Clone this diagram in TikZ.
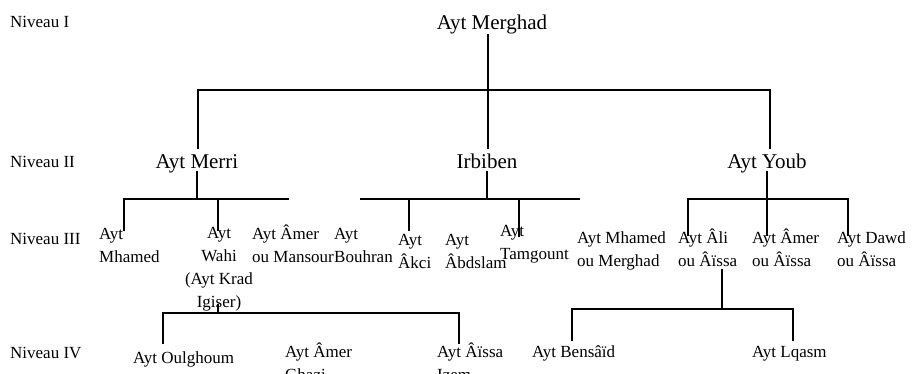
\documentclass[tikz,border=0pt]{standalone}
\usepackage{fontspec}
\setmainfont{Liberation Serif}
\begin{document}
\begin{tikzpicture}[x=1pt,y=-1pt,
  sm/.style={inner sep=0pt,font=\fontsize{17}{23}\selectfont,anchor=base west,align=left},
  smc/.style={inner sep=0pt,font=\fontsize{17}{23}\selectfont,anchor=base,align=center},
  lg/.style={inner sep=0pt,font=\fontsize{21}{24}\selectfont,anchor=base},
  link/.style={line width=1.1pt,line cap=rect}]
\useasboundingbox (0,0) rectangle (912,373);
% level labels
\node[sm] (n1) at (10,27) {Niveau I};
\node[sm] (n2) at (10,167) {Niveau II};
\node[sm] (n3) at (10,244) {Niveau III};
\node[sm] (n4) at (10,358) {Niveau IV};
% level I and II
\node[lg] (merghad) at (492,29) {Ayt Merghad};
\node[lg] (merri) at (197,168) {Ayt Merri};
\node[lg] (irbiben) at (487,168) {Irbiben};
\node[lg] (youb) at (767,168) {Ayt Youb};
% level III (anchor = baseline of last line)
\node[sm] (mhamed) at (99,262) {Ayt\\Mhamed};
\node[smc] (wahi) at (219,307) {Ayt\\Wahi\\(Ayt Krad\\Igiser)};
\node[sm] (amerm) at (252,262) {Ayt Âmer\\ou Mansour};
\node[sm] (bouhran) at (334,262) {Ayt\\Bouhran};
\node[sm] (akci) at (398,268) {Ayt\\Âkci};
\node[sm] (abdslam) at (445,268) {Ayt\\Âbdslam};
\node[sm] (tamgount) at (500,259) {Ayt\\Tamgount};
\node[sm] (mhamedm) at (577,266) {Ayt Mhamed\\ou Merghad};
\node[sm] (ali) at (678,266) {Ayt Âli\\ou Âïssa};
\node[sm] (amera) at (752,266) {Ayt Âmer\\ou Âïssa};
\node[sm] (dawd) at (837,266) {Ayt Dawd\\ou Âïssa};
% level IV
\node[sm] (oulghoum) at (133,363) {Ayt Oulghoum};
\node[sm] (amerg) at (285,380) {Ayt Âmer\\Ghazi};
\node[sm] (aissa) at (437,380) {Ayt Âïssa\\Izem};
\node[sm] (bensaid) at (532,357) {Ayt Bensâïd};
\node[sm] (lqasm) at (752,357) {Ayt Lqasm};
% junction coordinates
\coordinate (t0) at (488,35);
\coordinate (tL) at (198,90);
\coordinate (tM) at (488,90);
\coordinate (tR) at (770,90);
\coordinate (m1) at (198,148);
\coordinate (i1) at (488,148);
\coordinate (y1) at (770,148);
% level I -> II
\draw[link] (t0) -- (tM);
\draw[link] (tL) -- (tR);
\draw[link] (tL) -- (m1);
\draw[link] (tM) -- (i1);
\draw[link] (tR) -- (y1);
% Ayt Merri
\coordinate (ma) at (197,172);
\coordinate (mb) at (197,199);
\coordinate (mL) at (124,199);
\coordinate (mR) at (288,199);
\coordinate (mW) at (218,199);
\coordinate (mLd) at (124,230);
\coordinate (mWd) at (218,230);
\draw[link] (ma) -- (mb);
\draw[link] (mL) -- (mR);
\draw[link] (mL) -- (mLd);
\draw[link] (mW) -- (mWd);
% Irbiben
\coordinate (ia) at (487,172);
\coordinate (ib) at (487,199);
\coordinate (iL) at (361,199);
\coordinate (iR) at (579,199);
\coordinate (iA) at (409,199);
\coordinate (iT) at (519,199);
\coordinate (iAd) at (409,230);
\coordinate (iTd) at (519,236);
\draw[link] (ia) -- (ib);
\draw[link] (iL) -- (iR);
\draw[link] (iA) -- (iAd);
\draw[link] (iT) -- (iTd);
% Ayt Youb
\coordinate (ya) at (767,172);
\coordinate (yL) at (688,199);
\coordinate (yR) at (848,199);
\coordinate (yLd) at (688,235);
\coordinate (yMd) at (767,235);
\coordinate (yRd) at (848,235);
\draw[link] (ya) -- (yMd);
\draw[link] (yL) -- (yR);
\draw[link] (yL) -- (yLd);
\draw[link] (yR) -- (yRd);
% Ayt Wahi
\coordinate (wa) at (218,305);
\coordinate (wb) at (218,313);
\coordinate (wL) at (163,313);
\coordinate (wR) at (459,313);
\coordinate (wLd) at (163,343);
\coordinate (wRd) at (459,343);
\draw[link] (wa) -- (wb);
\draw[link] (wL) -- (wR);
\draw[link] (wL) -- (wLd);
\draw[link] (wR) -- (wRd);
% Ayt Ali ou Aissa
\coordinate (aa) at (722,270);
\coordinate (ab) at (722,309);
\coordinate (aL) at (572,309);
\coordinate (aR) at (793,309);
\coordinate (aLd) at (572,340);
\coordinate (aRd) at (793,340);
\draw[link] (aa) -- (ab);
\draw[link] (aL) -- (aR);
\draw[link] (aL) -- (aLd);
\draw[link] (aR) -- (aRd);
\end{tikzpicture}
\end{document}
